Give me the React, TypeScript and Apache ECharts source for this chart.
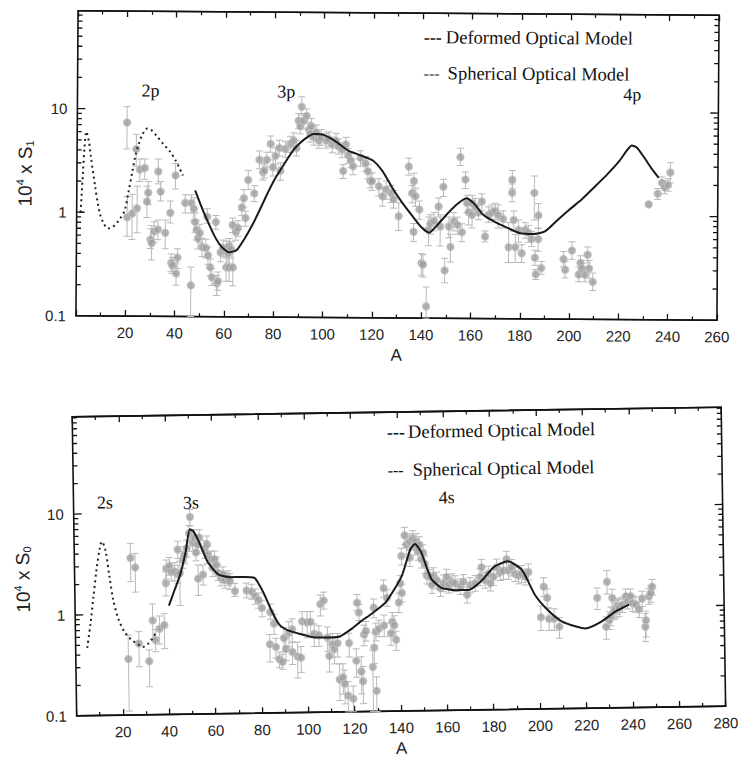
import React, { useEffect, useRef } from 'react';
import * as echarts from 'echarts';

// ---------- tick / label data ----------
const yLabelValues = [0.1, 1, 10];
const logMajor = [1, 10];
const logMinorTop = [0.2, 0.3, 0.4, 0.5, 0.6, 0.7, 0.8, 0.9, 2, 3, 4, 5, 6, 7, 8, 9, 20, 30, 40, 50, 60, 70, 80];
const logMinorBottom = [0.2, 0.3, 0.4, 0.5, 0.6, 0.7, 0.8, 0.9, 2, 3, 4, 5, 6, 7, 8, 9, 20, 30, 40, 50, 60, 70, 80, 90];

// ---------- top panel (S1) ----------
const s1Spherical = [
  [1.6, 1.0], [2.4, 2.3], [3.0, 4.2], [3.7, 6.0], [4.8, 4.8], [5.5, 3.6], [7.3, 1.85], [9.3, 1.0], [11, 0.78],
  [12.7, 0.7], [14.5, 0.72], [16.5, 0.8], [18, 0.9], [19.5, 1.05], [21, 1.6], [22.5, 2.5], [23.5, 3.4],
  [25, 4.6], [26.5, 5.7], [28.4, 6.5], [30, 6.3], [32, 5.6], [35, 4.6], [37.7, 3.9], [40, 3.2], [43, 2.3],
];
const s1Deformed = [
  [48, 1.65], [50, 1.25], [53, 0.85], [56, 0.6], [59, 0.47], [62, 0.42], [65, 0.44], [68, 0.56], [71, 0.75],
  [74, 1.05], [77, 1.5], [80, 2.1], [84, 3.0], [88, 4.2], [92, 5.2], [96, 5.9], [100, 5.8], [105, 5.0],
  [110, 4.1], [115, 3.7], [120, 3.3], [124, 2.6], [128, 1.8], [132, 1.3], [136, 0.98], [140, 0.75],
  [143, 0.67], [146, 0.78], [150, 1.0], [154, 1.25], [158, 1.45], [161, 1.3], [165, 1.0], [170, 0.85],
  [175, 0.75], [180, 0.67], [185, 0.66], [190, 0.7], [195, 0.9], [200, 1.15], [205, 1.45], [210, 1.9],
  [215, 2.5], [220, 3.4], [223, 4.3], [225, 4.8], [227, 4.6], [230, 3.7], [233, 2.9], [236, 2.35],
];
// [A, value, lower, upper]
const s1Points = [
  [20.2, 7.4, 4.1, 10.5], [20.5, 0.9, 0.59, 1.43], [22.5, 0.98, 0.55, 1.5], [24, 4.1, 2.8, 5.7],
  [24.5, 1.1, 0.64, 1.8], [25.5, 2.6, 2.0, 3.3], [27.5, 2.7, 2.1, 3.3], [28.5, 1.28, 0.9, 1.8],
  [29, 1.56, 1.2, 2.0], [30, 0.55, 0.45, 0.7], [30.5, 0.51, 0.35, 0.75], [31.5, 0.66, 0.52, 0.82],
  [33, 0.69, 0.55, 0.85], [33, 2.5, 1.9, 3.3], [34, 1.6, 1.3, 2.0], [36, 0.64, 0.45, 0.85],
  [38, 1.0, 0.8, 1.3], [38.5, 0.33, 0.27, 0.4], [39, 0.31, 0.26, 0.37], [40.5, 0.26, 0.2, 0.33],
  [41, 0.37, 0.29, 0.45], [40, 2.3, 1.7, 3.0], [44, 1.25, 1.0, 1.5], [46.5, 0.2, 0.1, 0.3],
  [46.5, 1.25, 1.0, 1.5], [47.5, 1.1, 0.85, 1.4], [48, 0.82, 0.65, 1.0], [48.7, 0.69, 0.55, 0.85],
  [49.3, 0.57, 0.45, 0.7], [50, 0.64, 0.52, 0.78], [51, 0.47, 0.38, 0.57], [52.5, 0.46, 0.37, 0.56],
  [53, 0.92, 0.8, 1.1], [53.4, 0.39, 0.32, 0.47], [54.3, 0.3, 0.25, 0.36], [55, 0.24, 0.2, 0.29],
  [56.5, 0.82, 0.7, 0.95], [57, 0.21, 0.16, 0.25], [57.5, 0.22, 0.18, 0.27], [58.5, 0.42, 0.34, 0.5],
  [59.5, 0.46, 0.38, 0.55], [60.8, 0.45, 0.37, 0.54], [61.5, 0.41, 0.33, 0.5], [62, 0.48, 0.4, 0.57],
  [62.8, 0.45, 0.37, 0.53], [60.8, 0.3, 0.22, 0.4], [62, 0.3, 0.22, 0.4], [63.5, 0.3, 0.2, 0.45],
  [63.3, 0.77, 0.65, 0.9], [64.6, 0.66, 0.55, 0.78], [65.5, 0.72, 0.6, 0.85], [67, 1.14, 0.95, 1.35],
  [67.8, 1.4, 1.15, 1.7], [68.5, 0.9, 0.75, 1.05], [69.5, 2.1, 1.7, 2.6], [72, 1.56, 1.3, 1.85],
  [74, 3.3, 2.7, 4.0], [75.5, 2.5, 2.1, 3.0], [76, 2.6, 2.2, 3.1], [77, 3.3, 2.8, 3.9],
  [78.5, 4.7, 3.9, 5.6], [79.5, 2.8, 2.3, 3.3], [80.5, 3.6, 3.0, 4.3], [82, 4.3, 3.6, 5.1],
  [82.5, 2.6, 2.1, 3.1], [84.5, 4.2, 3.5, 5.0], [86.5, 4.7, 3.9, 5.6], [87.8, 5.1, 4.3, 6.0],
  [89, 4.3, 3.6, 5.1], [89.8, 7.9, 6.6, 9.3], [90.5, 7.0, 5.9, 8.3], [91, 10.8, 9.0, 13.5],
  [91.8, 7.9, 6.6, 9.3], [93, 8.8, 7.4, 10.3], [94, 6.5, 5.4, 7.7], [94.5, 5.9, 4.9, 7.0],
  [95, 7.0, 5.9, 8.3], [96, 5.5, 4.6, 6.5], [97, 6.1, 5.1, 7.2], [98, 5.1, 4.3, 6.0],
  [99, 5.5, 4.6, 6.5], [101, 5.1, 4.3, 6.0], [102, 5.3, 4.5, 6.2], [103.5, 4.7, 3.9, 5.5],
  [105, 5.1, 4.3, 6.0], [106, 4.5, 3.8, 5.3], [107.5, 4.2, 3.5, 4.9], [108, 2.6, 2.2, 3.0],
  [109, 4.7, 3.9, 5.5], [110, 3.7, 3.1, 4.3], [111, 3.3, 2.8, 3.9], [112, 2.9, 2.4, 3.4],
  [115, 3.5, 2.9, 4.1], [117, 3.1, 2.6, 3.6], [118, 2.6, 2.2, 3.0], [119, 2.1, 1.8, 2.5],
  [119.7, 2.08, 1.7, 2.5], [122.5, 1.86, 1.5, 2.2], [124, 1.49, 1.2, 1.8], [125.5, 1.74, 1.4, 2.1],
  [127.5, 1.6, 1.3, 1.9], [128.5, 1.4, 1.15, 1.7], [130.6, 0.96, 0.7, 1.3], [134.6, 2.9, 2.4, 3.5],
  [136, 1.6, 1.3, 1.9], [136.7, 2.1, 1.7, 2.5], [137.4, 1.5, 1.2, 1.8], [136.7, 0.68, 0.55, 0.82],
  [139, 1.12, 0.9, 1.35], [140, 0.34, 0.26, 0.42], [140.6, 0.33, 0.25, 0.41], [142, 0.13, 0.1, 0.2],
  [142.8, 0.72, 0.5, 0.95], [143.5, 0.82, 0.65, 1.0], [145, 0.87, 0.7, 1.05], [146.8, 1.2, 0.95, 1.45],
  [147.5, 0.77, 0.5, 1.0], [148.7, 1.86, 1.5, 2.2], [149.4, 0.29, 0.22, 0.38], [151, 0.77, 0.6, 0.95],
  [151.7, 0.49, 0.35, 0.65], [153, 0.87, 0.7, 1.05], [154.5, 0.8, 0.65, 0.95], [155.5, 3.6, 3.0, 4.4],
  [156.3, 0.68, 0.55, 0.82], [157.6, 2.2, 1.8, 2.6], [158.3, 1.3, 1.05, 1.55], [159, 1.06, 0.8, 1.3],
  [160.4, 1.0, 0.75, 1.25], [160.4, 1.3, 1.1, 1.55], [161.7, 1.2, 1.0, 1.45], [163, 1.06, 0.9, 1.25],
  [164.3, 1.35, 1.1, 1.6], [165.7, 0.62, 0.55, 0.7], [167, 1.0, 0.85, 1.2], [168.4, 1.06, 0.9, 1.25],
  [169.7, 1.1, 0.9, 1.3], [171, 1.0, 0.75, 1.25], [173, 0.92, 0.75, 1.1], [175.3, 0.49, 0.35, 0.85],
  [176.6, 2.2, 1.8, 2.7], [176.6, 1.65, 1.35, 2.0], [177.3, 0.9, 0.7, 1.1], [178, 0.49, 0.35, 0.65],
  [179.3, 0.72, 0.55, 0.9], [180.6, 0.43, 0.35, 0.52], [182, 0.72, 0.6, 0.85], [183.3, 0.68, 0.55, 0.8],
  [184.6, 0.59, 0.5, 0.7], [185.6, 1.65, 0.9, 2.4], [186, 0.39, 0.33, 0.46], [186.4, 0.27, 0.24, 0.3],
  [187.3, 1.0, 0.75, 1.3], [187.3, 0.59, 0.45, 0.75], [188.6, 0.31, 0.27, 0.36], [197.6, 0.38, 0.32, 0.45],
  [198.3, 0.3, 0.25, 0.36], [201, 0.46, 0.38, 0.56], [203.8, 0.27, 0.23, 0.32], [204.5, 0.35, 0.29, 0.41],
  [205, 0.31, 0.26, 0.37], [206.3, 0.27, 0.23, 0.32], [207.4, 0.42, 0.35, 0.5], [208, 0.31, 0.25, 0.37],
  [209.5, 0.23, 0.19, 0.28], [232, 1.3, 1.25, 1.35], [235.6, 1.65, 1.45, 1.85], [237.3, 2.1, 1.85, 2.4],
  [238.4, 1.9, 1.65, 2.2], [239.8, 2.0, 1.75, 2.3], [240.7, 2.65, 2.1, 3.3],
];
const s1Labels = [
  { name: '2p', value: [29.6, 15.1] },
  { name: '3p', value: [84.7, 15.1] },
  { name: '4p', value: [225, 14.9] },
];

// ---------- bottom panel (S0) ----------
const s0Spherical = [
  [5, 0.47], [6.5, 0.8], [8, 1.5], [9.5, 2.8], [11, 4.5], [12, 5.3], [13.5, 4.3], [15, 2.4], [16.5, 1.4],
  [18.5, 0.92], [21, 0.68], [24, 0.56], [27, 0.5], [29, 0.47], [31, 0.5], [33, 0.56], [34.5, 0.64],
];
const s0Deformed = [
  [40.5, 1.2], [43, 1.7], [45.5, 2.4], [48, 4.0], [50, 6.8], [51.5, 6.5], [54, 5.0], [57.5, 3.2], [62, 2.4],
  [67, 2.25], [72, 2.25], [77.5, 2.2], [80, 1.8], [82, 1.45], [85, 1.0], [88, 0.75], [92, 0.65], [97, 0.6],
  [104, 0.55], [110, 0.55], [114, 0.56], [119, 0.66], [123, 0.78], [127, 0.9], [134, 1.2], [141, 2.15],
  [145, 4.0], [147, 4.5], [149.5, 3.8], [152, 2.6], [154, 2.0], [158, 1.65], [164, 1.55], [170, 1.55],
  [175.5, 1.9], [181, 2.6], [187, 2.95], [193, 2.4], [198.5, 1.35], [204, 0.95], [210, 0.73], [216, 0.65],
  [220, 0.62], [227, 0.72], [233, 0.9], [239, 1.05],
];
const s0Points = [
  [22.7, 0.36, 0.11, 0.62], [24.2, 3.6, 2.1, 5.0], [26.2, 2.9, 1.65, 4.0], [27.3, 0.51, 0.3, 0.67],
  [31.7, 0.34, 0.19, 0.44], [33.4, 0.86, 0.56, 1.25], [34.5, 0.55, 0.42, 0.7], [36.3, 0.71, 0.5, 0.95],
  [38.4, 0.77, 0.45, 1.0], [39.3, 2.0, 1.5, 2.6], [39.6, 2.8, 2.2, 3.4], [41, 2.95, 2.4, 3.6],
  [41.7, 2.6, 2.1, 3.2], [43.2, 2.6, 2.1, 3.2], [44.6, 2.45, 2.0, 3.0], [45.4, 2.5, 1.2, 3.3],
  [44.6, 4.3, 3.5, 5.2], [46.8, 3.4, 2.8, 4.1], [47.5, 3.8, 3.1, 4.6], [48.5, 4.4, 3.6, 5.3],
  [50.1, 9.0, 7.3, 10.7], [49.7, 6.2, 5.1, 7.4], [51.1, 5.0, 4.1, 6.0], [51.8, 5.6, 4.6, 6.7],
  [53.3, 4.8, 3.9, 5.8], [52.5, 4.0, 3.3, 4.8], [54, 5.6, 4.6, 6.7], [53.3, 2.2, 1.5, 3.0],
  [55.4, 2.4, 1.9, 3.0], [56.2, 4.3, 3.5, 5.2], [57.3, 4.8, 3.9, 5.8], [57.6, 3.8, 3.1, 4.6],
  [59, 3.4, 2.8, 4.1], [59.7, 2.8, 2.3, 3.4], [60.5, 3.4, 2.8, 4.1], [61.2, 3.0, 2.5, 3.6],
  [61.9, 2.5, 2.1, 3.0], [63.1, 2.2, 1.85, 2.6], [64, 2.4, 2.0, 2.85], [64.8, 2.1, 1.75, 2.5],
  [66.2, 2.2, 1.85, 2.6], [66.9, 2.05, 1.7, 2.45], [69.1, 1.63, 1.45, 1.95], [74.1, 1.65, 1.4, 1.95],
  [76.3, 1.6, 1.35, 1.9], [77.8, 1.45, 1.2, 1.7], [79.2, 1.32, 1.1, 1.55], [80.6, 1.1, 0.9, 1.3],
  [84.2, 1.0, 0.85, 1.2], [83.8, 0.48, 0.32, 0.6], [85.7, 0.77, 0.6, 0.95], [86.4, 0.45, 0.35, 0.55],
  [87.8, 0.34, 0.28, 0.4], [89.2, 0.32, 0.27, 0.38], [89.9, 0.55, 0.4, 0.7], [90.7, 0.43, 0.33, 0.55],
  [92.1, 0.62, 0.45, 0.8], [93.5, 0.67, 0.5, 0.85], [93.5, 0.4, 0.3, 0.5], [95.7, 0.36, 0.22, 0.5],
  [97.2, 0.35, 0.25, 0.45], [97.9, 0.8, 0.6, 1.0], [100, 0.78, 0.55, 1.0], [101.5, 0.79, 0.6, 1.0],
  [103, 0.6, 0.45, 0.75], [105, 0.58, 0.45, 0.72], [105.8, 1.18, 0.9, 1.45], [107.3, 1.28, 1.05, 1.55],
  [108.7, 0.55, 0.4, 0.7], [109.4, 0.36, 0.25, 0.5], [110.8, 0.47, 0.35, 0.6], [111.6, 0.42, 0.3, 0.55],
  [113, 0.48, 0.35, 0.6], [113.7, 0.21, 0.13, 0.3], [115.2, 0.22, 0.15, 0.3], [115.9, 0.19, 0.12, 0.26],
  [117.3, 0.145, 0.1, 0.2], [118, 0.48, 0.35, 0.6], [119.5, 0.135, 0.1, 0.18], [121, 0.32, 0.22, 0.42],
  [121.7, 1.2, 1.0, 1.45], [122.4, 0.96, 0.8, 1.15], [123.1, 0.25, 0.15, 0.35], [123.8, 0.2, 0.12, 0.28],
  [124.5, 0.58, 0.45, 0.72], [125.3, 0.63, 0.5, 0.78], [128.1, 0.276, 0.1, 0.4], [128.8, 0.43, 0.3, 0.6],
  [129.6, 0.16, 0.1, 0.22], [128.8, 1.07, 0.85, 1.3], [129.6, 0.62, 0.5, 0.75], [131, 0.66, 0.55, 0.8],
  [133.2, 0.71, 0.55, 0.9], [133.2, 1.66, 1.35, 2.0], [134.6, 1.33, 1.1, 1.6], [136.1, 0.59, 0.45, 0.75],
  [136.8, 0.77, 0.6, 0.95], [137.6, 0.71, 0.55, 0.88], [138.3, 0.51, 0.4, 0.62], [139.7, 1.19, 0.95, 1.45],
  [140.4, 1.85, 1.5, 2.2], [141.1, 1.48, 1.2, 1.8], [141.1, 3.44, 2.8, 4.1], [142.6, 5.5, 4.5, 6.6],
  [143.3, 4.44, 3.6, 5.3], [144.7, 4.77, 3.9, 5.7], [144.7, 3.3, 2.7, 4.0], [146.1, 5.13, 4.2, 6.1],
  [146.9, 4.26, 3.5, 5.1], [147.6, 4.76, 3.9, 5.7], [148.3, 3.81, 3.1, 4.6], [149, 4.42, 3.6, 5.3],
  [149.7, 3.17, 2.6, 3.8], [150.5, 3.68, 3.0, 4.4], [151.2, 2.84, 2.3, 3.4], [151.9, 2.19, 1.8, 2.6],
  [153.4, 2.11, 1.75, 2.5], [154.1, 1.76, 1.45, 2.1], [154.8, 2.18, 1.8, 2.6], [156.2, 1.96, 1.6, 2.35],
  [157.7, 1.63, 1.35, 1.95], [159.1, 1.82, 1.5, 2.2], [160.5, 2.1, 1.75, 2.5], [161.3, 1.75, 1.45, 2.1],
  [162.7, 1.88, 1.55, 2.25], [164.1, 1.81, 1.5, 2.15], [166.3, 1.68, 1.4, 2.0], [167.7, 1.87, 1.55, 2.2],
  [169.2, 1.39, 1.15, 1.65], [170.6, 1.73, 1.45, 2.05], [172.8, 1.8, 1.5, 2.15], [174.9, 2.08, 1.7, 2.5],
  [175.6, 2.59, 2.15, 3.1], [177.1, 1.92, 1.6, 2.3], [178.5, 2.23, 1.85, 2.65], [179.3, 1.79, 1.5, 2.15],
  [180.7, 2.07, 1.7, 2.45], [182.1, 2.57, 2.1, 3.1], [183.6, 2.3, 1.9, 2.75], [185, 2.38, 1.95, 2.85],
  [186.4, 3.08, 2.55, 3.7], [187.2, 2.38, 1.95, 2.85], [188.6, 2.56, 2.1, 3.05], [190, 2.21, 1.85, 2.65],
  [191.5, 2.12, 1.75, 2.55], [192.9, 2.2, 1.8, 2.65], [194.4, 2.05, 1.7, 2.45], [195.8, 2.28, 1.9, 2.75],
  [200.9, 0.81, 0.6, 1.05], [202.3, 1.63, 1.3, 2.0], [203.7, 1.26, 1.0, 1.55], [204.4, 0.78, 0.6, 1.0],
  [206.6, 0.78, 0.6, 0.98], [208.8, 0.65, 0.5, 0.8], [225.3, 1.24, 0.95, 1.55], [229, 0.64, 0.48, 0.8],
  [229.6, 1.78, 1.35, 2.3], [230.4, 0.74, 0.6, 0.9], [231.1, 0.82, 0.65, 1.0], [231.8, 1.23, 1.0, 1.5],
  [232.6, 0.92, 0.75, 1.1], [233.3, 0.95, 0.78, 1.15], [234, 1.02, 0.85, 1.22], [234.7, 0.98, 0.8, 1.18],
  [236.1, 1.05, 0.88, 1.25], [237.6, 1.27, 1.05, 1.5], [238.3, 1.13, 0.95, 1.35], [239.7, 1.27, 1.05, 1.5],
  [240.4, 1.09, 0.9, 1.3], [241.9, 1.05, 0.88, 1.25], [243.3, 0.94, 0.78, 1.12], [244.7, 1.2, 1.0, 1.42],
  [245.9, 0.63, 0.45, 0.85], [246.2, 0.73, 0.5, 0.9], [247.6, 1.26, 1.05, 1.5], [248.4, 1.36, 1.1, 1.6],
  [249.1, 1.57, 1.3, 1.85],
];
const s0Labels = [
  { name: '2s', value: [13.5, 12.9] },
  { name: '3s', value: [50.6, 12.5] },
  { name: '4s', value: [161, 12.9] },
];

const legendNames = ['Deformed Optical Model', 'Spherical Optical Model'];

const SANS = '"Liberation Sans", Arial, sans-serif';
const SERIF = '"Liberation Serif", "Times New Roman", serif';
const INK = '#111';

type PanelCfg = {
  grid: { left: number; top: number; width: number; height: number };
  xMax: number;
  yMax: number;
  sub: string;
  yNameGap: number;
  yNamePad: number;
  xNameGap: number;
  minors: number[];
  points: number[][];
  spherical: number[][];
  deformed: number[][];
  labels: { name: string; value: number[] }[];
  legend: { dashX: number; textX1: number; textX2: number; y1: number; y2: number };
};

function buildOption(p: PanelCfg) {
  const axisLine = { show: true, onZero: false, lineStyle: { color: INK, width: 1.6 } };
  const xCommon = {
    type: 'value',
    min: 0,
    max: p.xMax,
    interval: 20,
    splitLine: { show: false },
    axisLine,
    axisTick: { show: true, inside: true, length: 6, lineStyle: { color: INK, width: 1.3 } },
    minorTick: { show: true, splitNumber: 2, length: 3.5, lineStyle: { color: INK, width: 1.2 } },
    minorSplitLine: { show: false },
  };
  const yCommon = {
    type: 'log',
    logBase: 10,
    min: 0.1,
    max: p.yMax,
    splitLine: { show: false },
    axisLine: { show: false },
    axisTick: { show: false },
  };
  const lab = p.legend;
  // [x (mid axis, only used for mapping), tick value, tick length]
  const tickData = [
    ...p.minors.filter((v) => v < p.yMax).map((v) => [p.xMax / 2, v, 4.5]),
    ...logMajor.map((v) => [p.xMax / 2, v, 8]),
  ];
  return {
    animation: false,
    grid: { ...p.grid, containLabel: false, show: true, borderColor: INK, borderWidth: 1.6, backgroundColor: 'transparent' },
    xAxis: [
      {
        ...xCommon,
        position: 'bottom',
        name: 'A',
        nameLocation: 'middle',
        nameGap: p.xNameGap,
        nameTextStyle: { fontFamily: SANS, fontSize: 17, color: '#222' },
        axisLabel: {
          margin: 9,
          fontFamily: SANS,
          fontSize: 15,
          color: '#222',
          showMinLabel: false,
          showMaxLabel: true,
          formatter: (v: number) => (v === 0 ? '' : String(v)),
        },
      },
      { ...xCommon, position: 'top', axisLabel: { show: false } },
    ],
    yAxis: [
      {
        ...yCommon,
        position: 'left',
        name: '10{s|4} x S{b|' + p.sub + '}',
        nameLocation: 'middle',
        nameGap: p.yNameGap,
        nameTextStyle: {
          fontFamily: SANS,
          fontSize: 19,
          color: '#222',
          padding: [0, p.yNamePad, 0, 0],
          rich: {
            s: { fontFamily: SANS, fontSize: 11, color: '#222', padding: [0, 0, 10, 0] },
            b: { fontFamily: SANS, fontSize: 11, color: '#222', padding: [9, 0, 0, 0] },
          },
        },
        axisLabel: {
          margin: 10,
          fontFamily: SANS,
          fontSize: 15,
          color: '#222',
          formatter: (v: number) => {
            const hit = yLabelValues.find((t) => Math.abs(v - t) < t * 1e-6);
            return hit === undefined ? '' : String(hit);
          },
        },
      },
      { ...yCommon, position: 'right', axisLabel: { show: false } },
    ],
    graphic: [
      { type: 'text', x: lab.dashX, y: lab.y1, style: { text: '---', font: `bold 18px ${SERIF}`, fill: INK, verticalAlign: 'middle' } },
      { type: 'text', x: lab.textX1, y: lab.y1, style: { text: legendNames[0], font: `18.5px ${SERIF}`, fill: INK, verticalAlign: 'middle' } },
      { type: 'text', x: lab.dashX, y: lab.y2, style: { text: '---', font: `16px ${SERIF}`, fill: INK, verticalAlign: 'middle' } },
      { type: 'text', x: lab.textX2, y: lab.y2, style: { text: legendNames[1], font: `18.5px ${SERIF}`, fill: INK, verticalAlign: 'middle' } },
    ],
    series: [
      {
        type: 'custom',
        name: 'log-ticks',
        silent: true,
        z: 8,
        encode: { x: 0, y: 1 },
        data: tickData,
        renderItem: (params: any, api: any) => {
          const cs = params.coordSys;
          const len = api.value(2);
          const py = api.coord([api.value(0), api.value(1)])[1];
          const xl = cs.x;
          const xr = cs.x + cs.width;
          const st = { stroke: INK, lineWidth: 1.3 };
          return {
            type: 'group',
            children: [
              { type: 'line', shape: { x1: xl, y1: py, x2: xl + len, y2: py }, style: st },
              { type: 'line', shape: { x1: xr - len, y1: py, x2: xr, y2: py }, style: st },
            ],
          };
        },
      },
      {
        type: 'custom',
        name: 'errors',
        silent: true,
        z: 1,
        encode: { x: 0, y: [2, 3] },
        data: p.points.map((d) => [d[0], d[1], d[2], d[3]]),
        renderItem: (params: any, api: any) => {
          const x = api.value(0);
          const lo = api.coord([x, api.value(2)]);
          const hi = api.coord([x, api.value(3)]);
          const st = { stroke: '#b9b9b9', lineWidth: 1 };
          return {
            type: 'group',
            children: [
              { type: 'line', shape: { x1: lo[0], y1: lo[1], x2: hi[0], y2: hi[1] }, style: st },
              { type: 'line', shape: { x1: lo[0] - 3.5, y1: lo[1], x2: lo[0] + 3.5, y2: lo[1] }, style: st },
              { type: 'line', shape: { x1: hi[0] - 3.5, y1: hi[1], x2: hi[0] + 3.5, y2: hi[1] }, style: st },
            ],
          };
        },
      },
      {
        type: 'scatter',
        name: 'data',
        z: 2,
        symbol: 'circle',
        symbolSize: 7.5,
        itemStyle: { color: '#9e9e9e', borderColor: '#c4c4c4', borderWidth: 1 },
        data: p.points.map((d) => [d[0], d[1]]),
      },
      {
        type: 'line',
        name: legendNames[1],
        z: 3,
        showSymbol: false,
        smooth: 0.3,
        lineStyle: { color: '#222', width: 2, type: [2, 3.5] },
        data: p.spherical,
      },
      {
        type: 'line',
        name: legendNames[0],
        z: 3,
        showSymbol: false,
        smooth: 0.2,
        lineStyle: { color: '#1a1a1a', width: 2 },
        data: p.deformed,
      },
      {
        type: 'scatter',
        name: 'shells',
        silent: true,
        z: 4,
        symbolSize: 2,
        itemStyle: { color: 'rgba(255,255,255,0)' },
        label: {
          show: true,
          position: 'inside',
          formatter: '{b}',
          fontFamily: SERIF,
          fontSize: 18,
          color: INK,
          opacity: 1,
          textBorderWidth: 0,
          textBorderColor: 'transparent',
        },
        data: p.labels,
      },
    ],
  };
}

const topCfg: PanelCfg = {
  grid: { left: 77, top: 13, width: 641, height: 305 },
  xMax: 260,
  yMax: 88,
  sub: '1',
  yNameGap: 34,
  yNamePad: 21,
  xNameGap: 23,
  minors: logMinorTop,
  points: s1Points,
  spherical: s1Spherical,
  deformed: s1Deformed,
  labels: s1Labels,
  legend: { dashX: 423, textX1: 445, textX2: 447, y1: 37, y2: 73 },
};

const bottomCfg: PanelCfg = {
  grid: { left: 74.5, top: 42, width: 649, height: 310 },
  xMax: 280,
  yMax: 92,
  sub: '0',
  yNameGap: 39,
  yNamePad: 25,
  xNameGap: 26,
  minors: logMinorBottom,
  points: s0Points,
  spherical: s0Spherical,
  deformed: s0Deformed,
  labels: s0Labels,
  legend: { dashX: 389, textX1: 410, textX2: 414, y1: 62, y2: 100 },
};

function Panel({ cfg, style }: { cfg: PanelCfg; style: React.CSSProperties }) {
  const ref = useRef<HTMLDivElement>(null);
  useEffect(() => {
    if (!ref.current) return;
    const chart = echarts.init(ref.current, null, { renderer: 'svg' });
    chart.setOption(buildOption(cfg) as any);
    return () => chart.dispose();
  }, [cfg]);
  return <div ref={ref} style={style} />;
}

export default function App() {
  return (
    <div style={{ position: 'absolute', left: 0, top: 0, width: 740, height: 762, overflow: 'hidden', background: '#fff' }}>
      <Panel
        cfg={topCfg}
        style={{ position: 'absolute', left: 0, top: 0, width: 740, height: 370, transform: 'rotate(0.4deg)', transformOrigin: '397px 165px' }}
      />
      <Panel
        cfg={bottomCfg}
        style={{ position: 'absolute', left: 0, top: 370, width: 740, height: 392, transform: 'rotate(-0.85deg)', transformOrigin: '399px 197px' }}
      />
    </div>
  );
}
